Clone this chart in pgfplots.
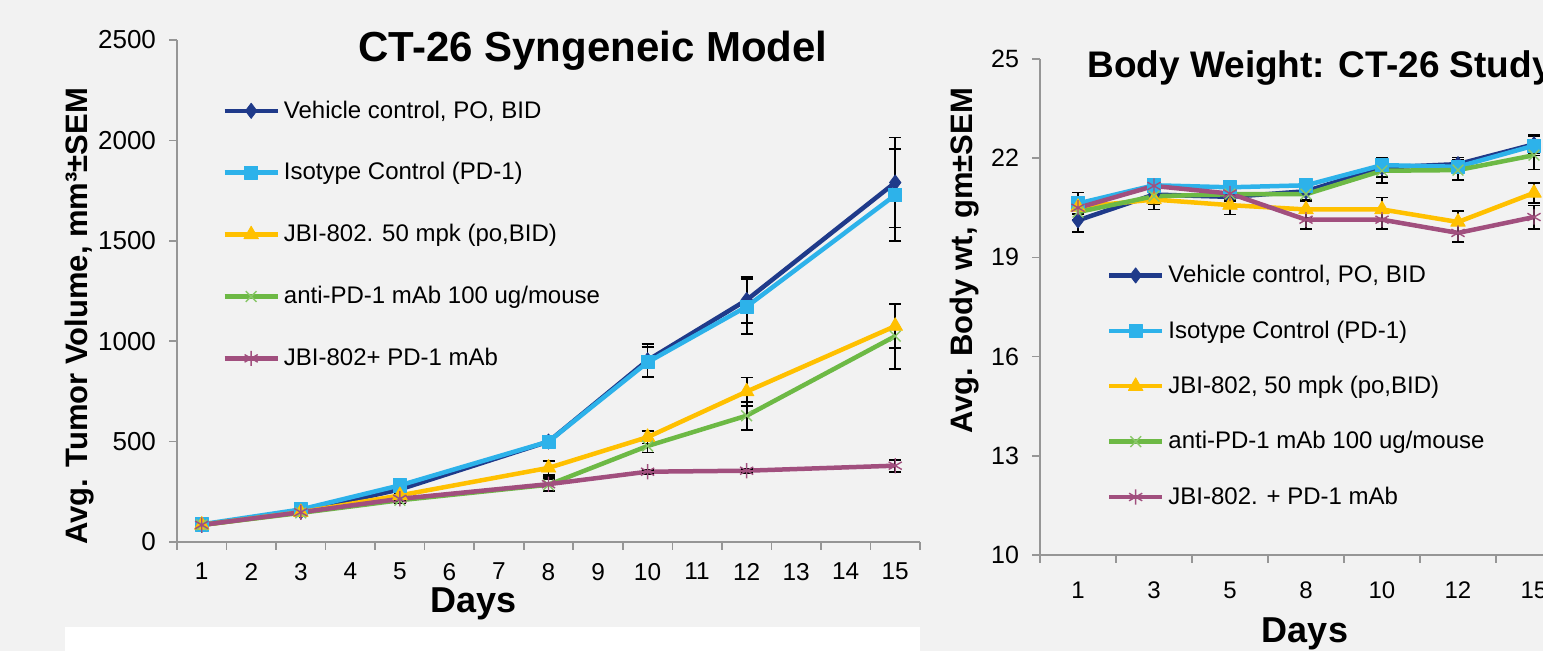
\documentclass[border=0pt]{standalone}
\usepackage{fontspec}
\setmainfont{Liberation Sans}
\usepackage{pgfplots}
\pgfplotsset{compat=1.18}
\definecolor{bg}{RGB}{242,242,242}
\definecolor{axgray}{RGB}{150,150,150}
\definecolor{vehc}{RGB}{31,58,138}
\definecolor{isoc}{RGB}{45,178,234}
\definecolor{yelc}{RGB}{255,192,0}
\definecolor{grnc}{RGB}{109,185,69}
\definecolor{purc}{RGB}{161,79,126}
\pgfplotsset{
  errs/.style={error bars/.cd, y dir=both, y explicit,
    error bar style={black, line width=0.9pt, solid},
    error mark options={black, line width=0.9pt, mark size=3pt, solid, rotate=90}},
  vehS/.style={color=vehc, line width=2.25pt, line join=round, mark=diamond*, mark size=3.8pt,
    mark options={solid, fill=vehc, draw=vehc, line width=0.4pt}, errs},
  isoS/.style={color=isoc, line width=2.25pt, line join=round, mark=square*, mark size=3.3pt,
    mark options={solid, fill=isoc, draw=isoc, line width=0.4pt}, errs},
  yelS/.style={color=yelc, line width=2.25pt, line join=round, mark=triangle*, mark size=4.2pt,
    mark options={solid, fill=yelc, draw=yelc, line width=0.4pt}, errs},
  grnS/.style={color=grnc, line width=2.25pt, line join=round, mark=x, mark size=3.8pt,
    mark options={solid, draw=grnc!80!white, line width=0.7pt}, errs},
  purS/.style={color=purc, line width=2.25pt, line join=round, mark=asterisk, mark size=3.8pt,
    mark options={solid, draw=purc, line width=0.7pt}, errs},
  myaxis/.style={
    scale only axis, axis lines*=left,
    axis line style={draw=axgray, line width=0.8pt},
    tick align=outside,
    major tick length=4pt, minor tick length=4pt,
    major x tick style={draw=none},
    minor x tick style={draw=axgray, line width=0.8pt},
    ytick style={draw=axgray, line width=0.8pt},
    legend cell align=left,
    legend image code/.code={\draw[mark repeat=2,mark phase=2,##1] plot coordinates {(0pt,0pt) (13.25pt,0pt) (26.5pt,0pt)};},
  },
}
\begin{document}
\begin{tikzpicture}
\path[use as bounding box, fill=bg] (0,0) rectangle (771.5pt,325.5pt);
\fill[white] (32.5pt,0) rectangle (460pt,12pt);

% ---------------- Left chart ----------------
\begin{axis}[myaxis,
  at={(88.5pt,54.5pt)}, anchor=south west,
  width=371.5pt, height=251pt,
  xmin=0.5, xmax=15.5, ymin=0, ymax=2500,
  xtick={1,...,15},
  xticklabels={1,2,3,4,5,6,7,8,9,10,11,12,13,14,15},
  minor xtick={0.5,1.5,...,15.5},
  ytick={0,500,1000,1500,2000,2500},
  yticklabels={0,500,1000,1500,2000,2500},
  xticklabel style={font=\fontsize{12.2}{12.2}\selectfont, yshift=-3pt},
  yticklabel style={font=\fontsize{13}{13}\selectfont, xshift=-3pt},
  legend style={draw=none, fill=none, at={(0.0606,0.888)}, anchor=north west,
    font=\fontsize{12}{12}\selectfont, row sep=16.75pt, inner sep=0pt,
    nodes={inner xsep=2pt}},
]
\addplot[vehS] coordinates {(1,85)+-(0,8) (3,152)+-(0,12) (5,262)+-(0,20) (8,500)+-(0,22) (10,905)+-(0,82) (12,1205)+-(0,115) (15,1790)+-(0,224)};
\addlegendentry{Vehicle control, PO, BID}
\addplot[isoS] coordinates {(1,88)+-(0,8) (3,162)+-(0,12) (5,282)+-(0,22) (8,500)+-(0,25) (10,895)+-(0,75) (12,1172)+-(0,136) (15,1728)+-(0,228)};
\addlegendentry{Isotype Control (PD-1)}
\addplot[yelS] coordinates {(1,85)+-(0,8) (3,148)+-(0,12) (5,232)+-(0,18) (8,369)+-(0,34) (10,522)+-(0,32) (12,749)+-(0,70) (15,1075)+-(0,110)};
\addlegendentry{JBI-802. 50 mpk (po,BID)}
\addplot[grnS] coordinates {(1,85)+-(0,8) (3,145)+-(0,12) (5,208)+-(0,16) (8,285)+-(0,30) (10,478)+-(0,32) (12,629)+-(0,70) (15,1025)+-(0,163)};
\addlegendentry{anti-PD-1 mAb 100 ug/mouse}
\addplot[purS] coordinates {(1,85)+-(0,8) (3,148)+-(0,10) (5,215)+-(0,12) (8,288)+-(0,37) (10,350)+-(0,10) (12,355)+-(0,10) (15,380)+-(0,30)};
\addlegendentry{JBI-802+ PD-1 mAb}
\end{axis}

\node[font=\bfseries\fontsize{21}{21}\selectfont, anchor=base] at (296.5pt,294.5pt) {CT-26 Syngeneic Model};
\node[font=\bfseries\fontsize{15.5}{15.5}\selectfont, rotate=90, anchor=base] at (43.5pt,167.25pt) {Avg. Tumor Volume, mm³±SEM};
\node[font=\bfseries\fontsize{18}{18}\selectfont, anchor=base] at (237pt,19pt) {Days};

% ---------------- Right chart ----------------
\begin{axis}[myaxis,
  at={(520pt,48pt)}, anchor=south west,
  width=266pt, height=248pt,
  xmin=0.5, xmax=7.5, ymin=10, ymax=25,
  xtick={1,...,7},
  xticklabels={1,3,5,8,10,12,15},
  minor xtick={0.5,1.5,...,7.5},
  ytick={10,13,16,19,22,25},
  yticklabels={10,13,16,19,22,25},
  xticklabel style={font=\fontsize{12}{12}\selectfont, yshift=-6pt},
  yticklabel style={font=\fontsize{12.5}{12.5}\selectfont, xshift=-3pt},
  legend style={draw=none, fill=none, at={(0.125,0.593)}, anchor=north west,
    font=\fontsize{12}{12}\selectfont, row sep=13.5pt, inner sep=0pt,
    nodes={inner xsep=2pt}},
]
\addplot[vehS] coordinates {(1,20.12)+-(0,0.35) (2,20.9)+-(0,0.3) (3,20.83)+-(0,0.25) (4,21.0)+-(0,0.25) (5,21.72)+-(0,0.3) (6,21.82)+-(0,0.2) (7,22.42)+-(0,0.28)};
\addlegendentry{Vehicle control, PO, BID}
\addplot[isoS] coordinates {(1,20.63)+-(0,0.33) (2,21.18)+-(0,0.2) (3,21.12)+-(0,0.2) (4,21.18)+-(0,0.2) (5,21.79)+-(0,0.2) (6,21.74)+-(0,0.2) (7,22.38)+-(0,0.3)};
\addlegendentry{Isotype Control (PD-1)}
\addplot[yelS] coordinates {(1,20.52)+-(0,0.2) (2,20.75)+-(0,0.3) (3,20.58)+-(0,0.28) (4,20.45)+-(0,0.25) (5,20.45)+-(0,0.36) (6,20.07)+-(0,0.33) (7,20.95)+-(0,0.31)};
\addlegendentry{JBI-802, 50 mpk (po,BID)}
\addplot[grnS] coordinates {(1,20.37)+-(0,0.25) (2,20.85)+-(0,0.25) (3,20.91)+-(0,0.2) (4,20.91)+-(0,0.2) (5,21.62)+-(0,0.36) (6,21.64)+-(0,0.3) (7,22.09)+-(0,0.43)};
\addlegendentry{anti-PD-1 mAb 100 ug/mouse}
\addplot[purS] coordinates {(1,20.5)+-(0,0.2) (2,21.16)+-(0,0.2) (3,20.93)+-(0,0.2) (4,20.14)+-(0,0.27) (5,20.14)+-(0,0.27) (6,19.74)+-(0,0.28) (7,20.22)+-(0,0.35)};
\addlegendentry{JBI-802. + PD-1 mAb}
\end{axis}

\node[font=\bfseries\fontsize{18.5}{18.5}\selectfont, anchor=base west, inner sep=0pt] at (543.5pt,286.5pt) {Body Weight: CT-26 Study};
\node[font=\bfseries\fontsize{15.5}{15.5}\selectfont, rotate=90, anchor=base] at (486pt,195pt) {Avg. Body wt, gm±SEM};
\node[font=\bfseries\fontsize{18}{18}\selectfont, anchor=base] at (652.5pt,4pt) {Days};
\end{tikzpicture}
\end{document}
